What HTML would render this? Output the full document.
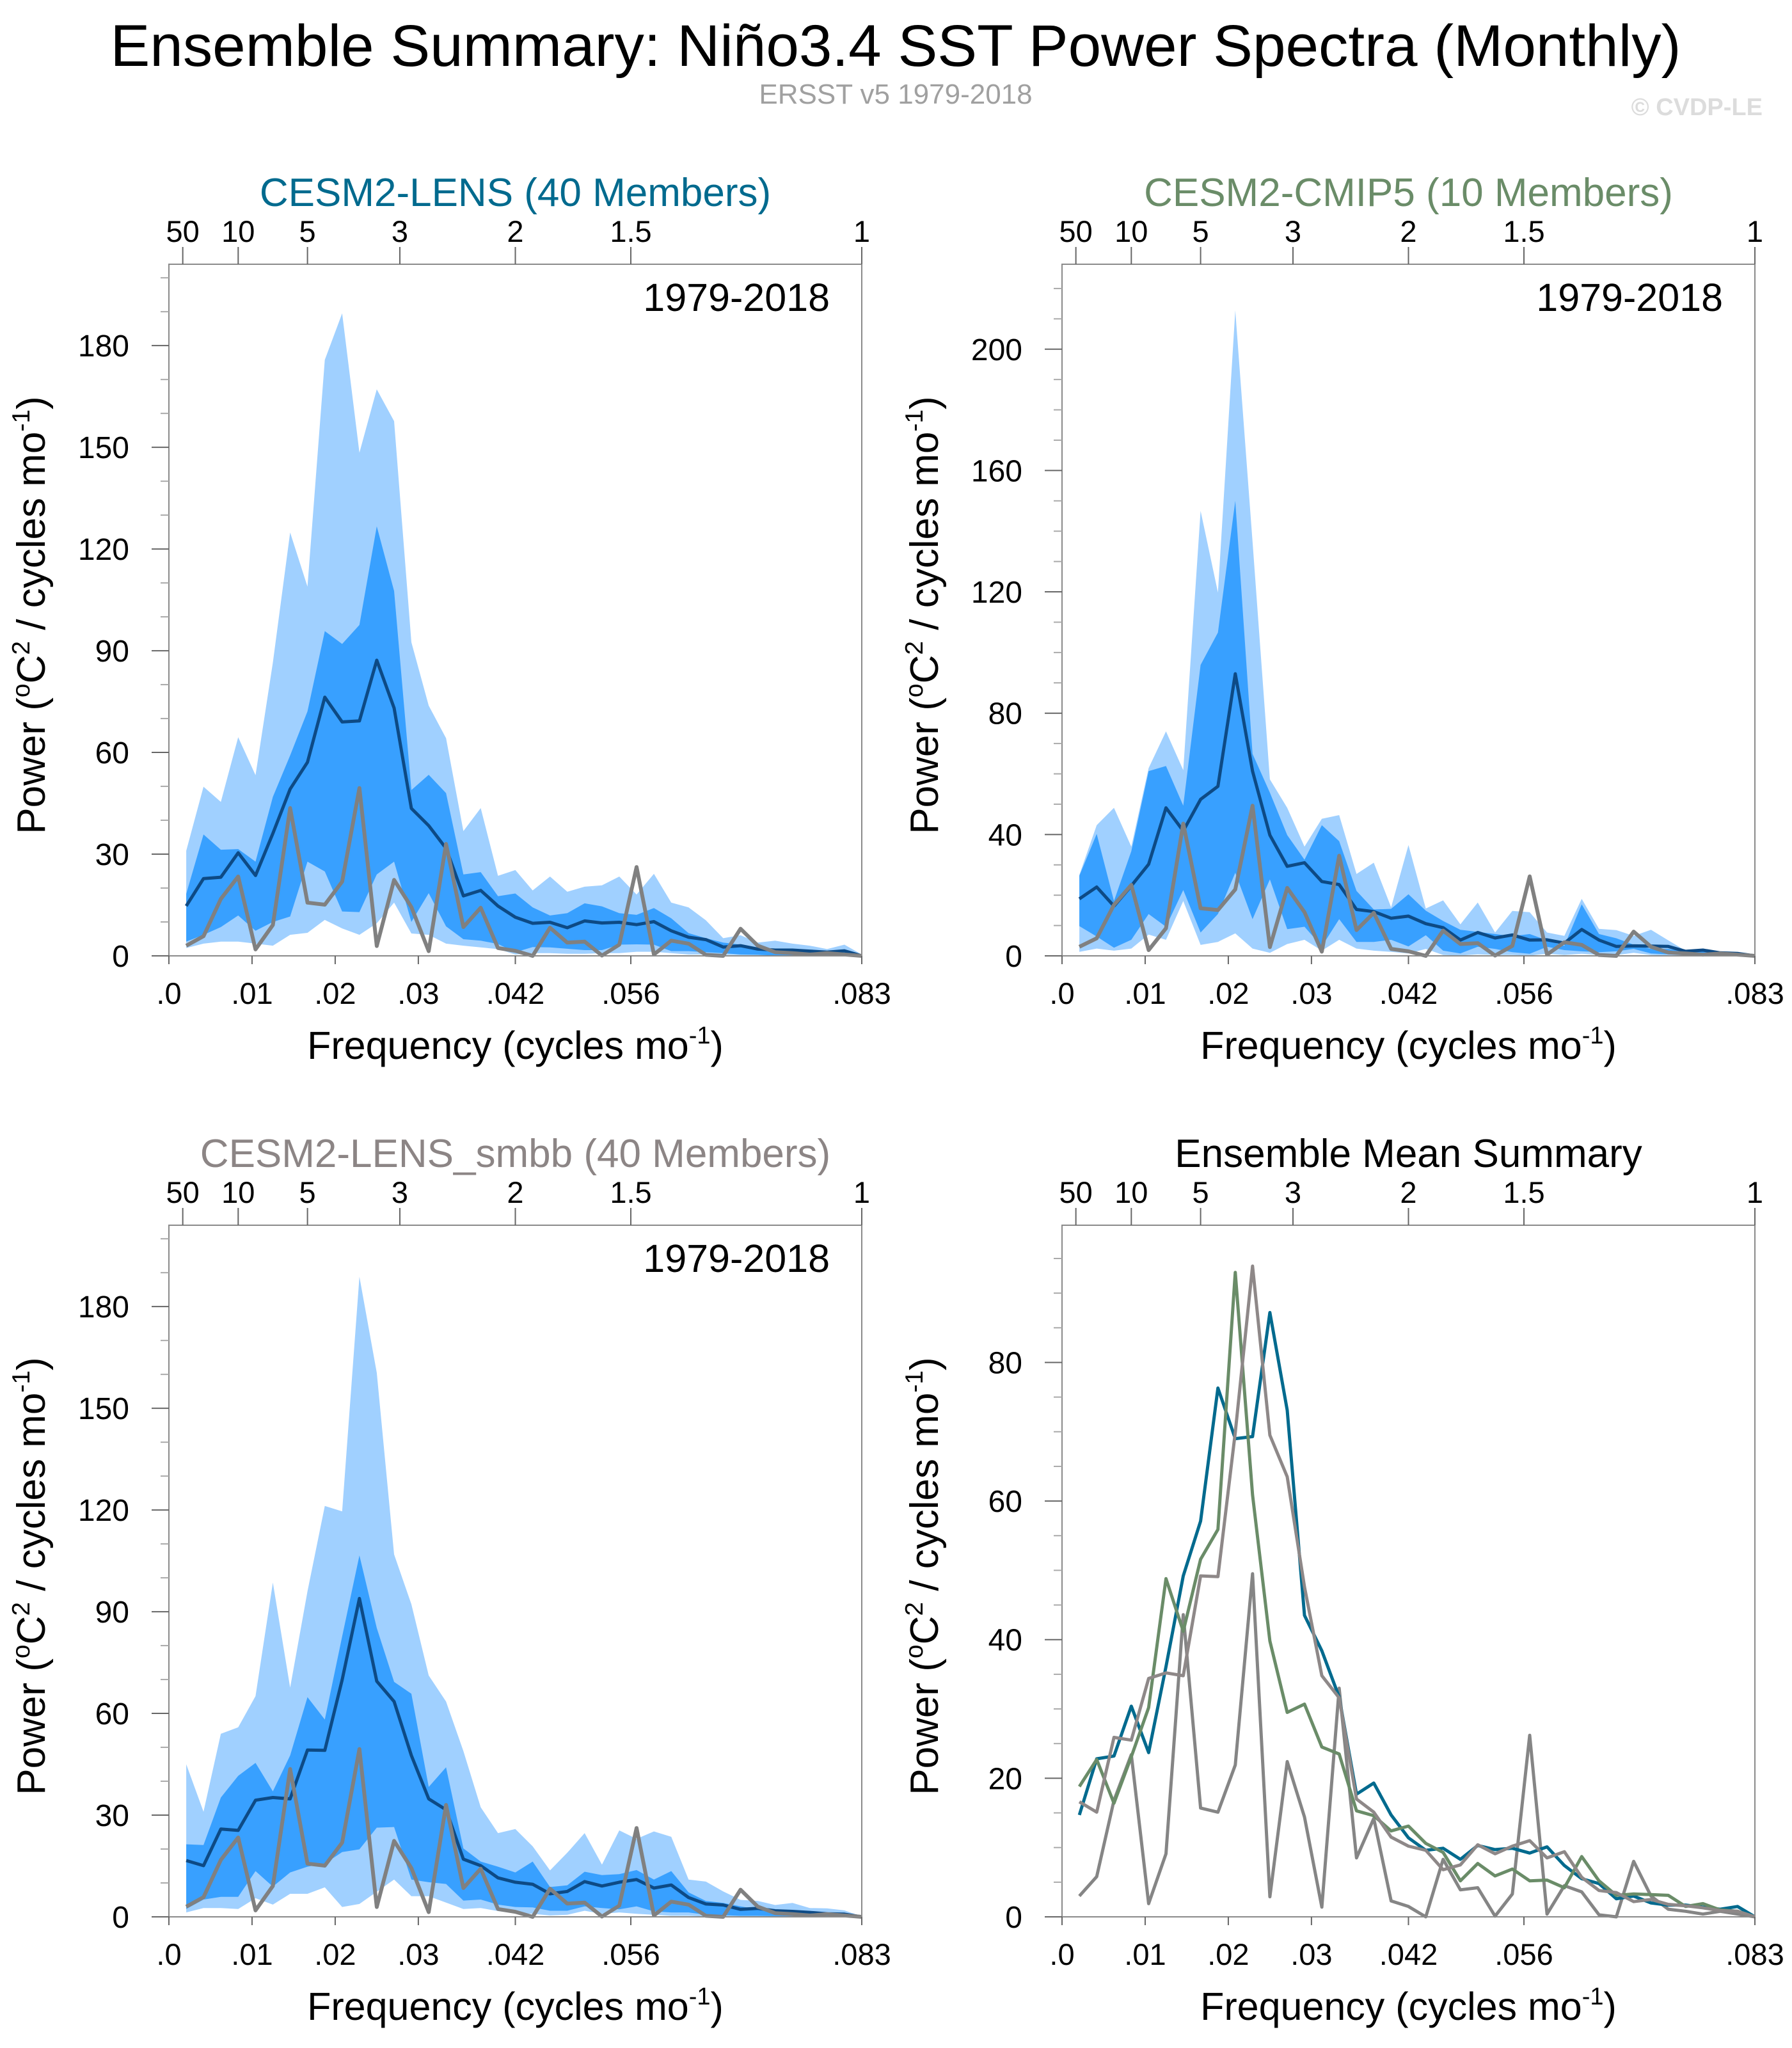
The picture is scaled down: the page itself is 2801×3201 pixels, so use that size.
<!DOCTYPE html>
<html><head><meta charset="utf-8">
<style>
html,body{margin:0;padding:0;background:#fff;}
svg{display:block;font-family:"Liberation Sans",Arial,sans-serif;}
</style></head>
<body>
<svg id="chart" xmlns="http://www.w3.org/2000/svg" width="2801" height="3201" viewBox="0 0 2801 3201">
<rect width="2801" height="3201" fill="#fff"/>
<text x="1400" y="103" font-size="92" text-anchor="middle" textLength="2455" lengthAdjust="spacingAndGlyphs">Ensemble Summary: Niño3.4 SST Power Spectra (Monthly)</text>
<text x="1400" y="162" font-size="44" fill="#a0a0a0" text-anchor="middle">ERSST v5 1979-2018</text>
<text x="2755" y="180" font-size="38" font-weight="bold" fill="#dcdcdc" text-anchor="end">© CVDP-LE</text>
</svg>
<script>
// ---- data (40 frequencies, k/480 cycles per month) ----
const lensMean = [14.7,22.8,23.2,30.4,23.7,36.1,49.2,57.1,76.3,69,69.3,87.2,73.1,43.5,38.4,31.7,17.7,19.3,14.7,11.4,9.6,9.9,8.3,10.3,9.7,9.9,9.2,10.1,7.4,5.5,4.8,2.6,3,2,1.7,1.7,1.4,1.1,1.5,0];
const lensLightUpper = [31,49.9,45.4,64.5,53.3,86.5,124.9,108.9,175.8,189.5,148.4,167.1,157.7,92.5,73.8,64.2,36.8,43.6,23.6,25.3,19.3,23.4,18.9,20.4,20.8,23.4,18.1,24.2,15.7,14.3,10.5,5.2,6.1,3.9,4.5,3.6,3,2,3.3,0.4];
const lensDarkUpper = [18.3,35.8,31.3,31.5,27.8,46.9,59.1,72.1,95.8,92,97.6,126.7,107.6,48.9,53.4,48,24,24.7,17.6,18.4,14.3,11.9,12.6,15.5,14.6,12.6,12.1,14.1,11.1,6.7,5.2,3.9,3.3,2.3,1.7,1.4,1.1,0.8,1.1,0.1];
const lensDarkLower = [4.2,6.2,8.5,11.9,7.4,10,11.6,27.8,24.9,13.1,12.9,24,27.8,10,18.5,8.7,4.9,4.5,3.5,1.1,2.6,2.5,2.1,1.7,1.7,3.3,3.4,3.3,1.4,1.4,1.1,0.8,0.4,0.3,0.1,0.1,0.1,0.1,0.1,0];
const lensLightLower = [2.3,3.6,4.2,4.2,3.6,3,6.2,6.8,10.6,8.1,6.2,9.6,15.7,6.6,6.2,3.6,3,2.5,2,0.4,0.8,0.8,0.6,0.6,0.8,0.8,1.2,1.2,0.8,0.4,0.4,0.3,0.2,0.2,0.1,0.1,0.1,0.1,0.1,0];

const cmipMean = [18.8,22.7,16.4,23.1,30.2,48.8,41.2,51.6,55.9,93,60.9,39.8,29.5,30.7,24.5,23.5,15.3,14.6,12.4,13.1,10.6,9.3,5.2,7.7,5.9,6.9,5.2,5.3,4.2,8.7,5.2,3.1,3.3,3.2,3.1,1.5,1.9,1,0.8,0];
const cmipLightUpper = [26.7,43.1,48.8,36,61.9,74,61.2,146.7,119.8,212.8,136.5,58.2,48.8,36,45.2,46.4,27,30.7,16,36.5,15.6,18.3,10.4,17.6,7.7,14.8,14.4,7.7,6.6,18.8,8.9,8.5,6.6,8.6,5.1,1.7,1.9,1,0.8,0.1];
const cmipDarkUpper = [26.4,40.2,18.1,34.5,60.9,62.6,49.5,95.9,106.6,150,66.6,53.8,39.8,31.7,43.1,37.8,21.4,15.3,15.5,20.3,14.9,11.5,8.6,7.9,7.2,6.5,7.2,5.1,3.3,17,7.2,5.8,3.7,2.3,2.3,1.5,1.5,0.8,0.7,0.1];
const cmipDarkLower = [9.8,6.4,2.7,5.3,13.8,9.6,21.7,7.7,13.8,27.4,12.1,25.2,8.8,9.6,3.1,12.1,4.6,4.6,5.3,3.1,6.8,1.7,0.8,3,2.3,1.2,0.7,3,1.9,1.5,1.2,1.5,2.3,0.8,0.5,0.3,0.1,0.1,0.1,0];
const cmipLightLower = [1.3,2.4,1.7,2.4,7,5.3,18.1,3.6,4.6,7.4,2.4,1,3.9,5.3,1.7,5.3,2.4,1.7,1.3,0.8,2.3,0.3,0.1,0.5,0.3,0.3,0.1,0.7,0.3,0.7,0.3,0.3,1,0.3,0.1,0.1,0.1,0,0,0];

const smbbMean = [16.6,15.1,25.9,25.5,34.4,35.2,34.8,49.2,49.1,69.9,93.9,69.5,63.5,47.6,34.8,31.6,17,15.1,11.5,10.2,9.6,6.8,7.5,10.4,9.1,10.2,11,8.5,9.4,5.7,3.8,3.5,2.2,2.5,1.8,1.6,1.3,0.9,0.8,0];
const smbbLightUpper = [45,31,54,55.9,65.1,98.6,67.6,96,121.2,119.6,188.8,160.5,106.9,92.2,71.2,63.5,48.9,32.3,24.7,25.9,20.8,13.7,18.9,24.7,15.4,25.5,23,25.2,23.6,11,10.4,7.5,5,4.7,3.5,4.1,2.6,2.5,1.9,0.1];
const smbbDarkUpper = [21.4,21.2,35.2,41.6,45.4,37,47.6,64.8,58.2,82.7,106.6,85.2,69.3,65.8,38.3,44.1,20.2,16.3,14.8,13.1,16.3,8.8,9.3,13.3,12.3,12.6,13.8,11,13.5,7.2,4.7,4.1,3.1,2.2,1.6,1.3,0.9,0.8,0.6,0.1];
const smbbDarkLower = [2.3,5.1,5.9,5.9,13.5,8.9,13.1,14.8,15.7,19.1,19.9,26.3,26.5,11,10.2,9.7,4.8,5.1,3.6,2.9,2.8,1.8,1.8,3.1,2.6,2.2,3.1,1.6,1.3,1.3,0.6,0.5,0.3,0.3,0.2,0.2,0.1,0.1,0.1,0];
const smbbLightLower = [1.3,2.6,2.6,2.3,5.5,3.6,6.8,6.8,8.7,2.9,3.8,7.4,11,6.1,6.1,4.2,2.3,2.6,1.7,1,0.9,0.4,0.6,1.8,0.9,1.3,0.9,0.6,0.3,0.3,0.1,0.1,0.1,0.1,0.1,0,0,0,0,0];

const obsSpec = [3,5.8,16.8,23.4,1.9,9.1,43.6,15.7,15.1,21.9,49.5,2.9,22.4,14.4,1.4,33,8.5,14.2,2.3,1.5,0,8.3,3.9,4.2,0.1,3.3,26.2,0.4,4.5,3.6,0.3,0,8,3,1.1,0.8,0.4,0.8,0.4,0];

const bottomTickLabels = [".0",".01",".02",".03",".042",".056",".083"];
const bottomTickValues = [0,0.01,0.02,0.03,1/24,1/18,1/12];
const topTickLabels = ["50","10","5","3","2","1.5","1"];
const topTickYears = [50,10,5,3,2,1.5,1];

const svg = document.getElementById('chart');
const NS = 'http://www.w3.org/2000/svg';
function mk(tag, attrs, parent){
  const e = document.createElementNS(NS, tag);
  for (const k in attrs) e.setAttribute(k, attrs[k]);
  (parent||svg).appendChild(e);
  return e;
}
const FMAX = 1/12, W = 1083, H = 1081;
const freqs = lensMean.map((_, i) => (i+1)/480);

function panel(cfg){
  const g = mk('g', {});
  
  
  const L = cfg.left, T = cfg.top, B = T + H;
  const xs = f => L + f / FMAX * W;
  const ys = v => B - v / cfg.ymax * H;

  if (cfg.bands) {
    const band = (up, lo, color, nm) => {
      let d = '';
      freqs.forEach((f,i) => { d += (i ? 'L' : 'M') + xs(f).toFixed(1) + ',' + ys(up[i]).toFixed(1); });
      for (let i = freqs.length-1; i >= 0; i--) d += 'L' + xs(freqs[i]).toFixed(1) + ',' + ys(lo[i]).toFixed(1);
      const p = mk('path', {d: d + 'Z', fill: color}, g);
      
      
    };
    band(cfg.bands[0], cfg.bands[3], '#a0d0ff', 'band-10-90');
    band(cfg.bands[1], cfg.bands[2], '#38a0ff', 'band-25-75');
  }
  cfg.lines.forEach(ln => {
    const pts = ln.data.map((v,i) => xs(freqs[i]).toFixed(1) + ',' + ys(v).toFixed(1)).join(' ');
    const pl = mk('polyline', {points: pts, fill: 'none', stroke: ln.color, 'stroke-width': ln.w, 'stroke-linejoin': 'round'}, g);
    
    
  });

  const fr = mk('rect', {x: L, y: T, width: W, height: H, fill: 'none', stroke: '#8a8a8a', 'stroke-width': 2}, g);
  
  

  for (let v = 0; v <= cfg.ymax + 1e-9; v += cfg.minor) {
    const isMaj = Math.abs(v / cfg.major - Math.round(v / cfg.major)) < 1e-6;
    const y = ys(v);
    mk('line', {x1: L - (isMaj ? 27 : 13), x2: L, y1: y, y2: y, stroke: isMaj ? '#666' : '#aaa', 'stroke-width': 2}, g);
    if (isMaj) {
      const t = mk('text', {x: L - 62, y: y + 17, 'font-size': 48, 'text-anchor': 'end'}, g);
      t.textContent = Math.round(v);
      
      
    }
  }
  bottomTickValues.forEach((f, i) => {
    const x = xs(f);
    mk('line', {x1: x, x2: x, y1: B, y2: B + 13, stroke: '#666', 'stroke-width': 2}, g);
    const t = mk('text', {x: x, y: B + 75, 'font-size': 47, 'text-anchor': 'middle'}, g);
    t.textContent = bottomTickLabels[i];
    
    
  });
  topTickYears.forEach((p, i) => {
    const x = xs(1/(12*p));
    mk('line', {x1: x, x2: x, y1: T - 27, y2: T, stroke: '#666', 'stroke-width': 2}, g);
    const t = mk('text', {x: x, y: T - 35, 'font-size': 47, 'text-anchor': 'middle'}, g);
    t.textContent = topTickLabels[i];
    
    
  });
  const tt = mk('text', {x: L + W/2, y: T - 91, 'font-size': 62, 'text-anchor': 'middle', fill: cfg.titleColor}, g);
  tt.textContent = cfg.title;
  
  
  if (cfg.years) {
    const yt = mk('text', {x: L + W - 50, y: T + 73, 'font-size': 61, 'text-anchor': 'end'}, g);
    yt.textContent = '1979-2018';
    
    
  }
  const xl = mk('text', {x: L + W/2, y: B + 161, 'font-size': 61, 'text-anchor': 'middle'}, g);
  xl.innerHTML = 'Frequency (cycles mo<tspan dy="-24" font-size="38">-1</tspan><tspan dy="24">)</tspan>';
  
  
  const cx = L - 194, cy = T + H/2 + 8;
  const yl = mk('text', {x: cx, y: cy, 'font-size': 62, 'text-anchor': 'middle', transform: 'rotate(-90 ' + cx + ' ' + cy + ')'}, g);
  yl.innerHTML = 'Power (<tspan dy="-24" font-size="39">o</tspan><tspan dy="24">C</tspan><tspan dy="-24" font-size="39">2</tspan><tspan dy="24"> / cycles mo</tspan><tspan dy="-24" font-size="39">-1</tspan><tspan dy="24">)</tspan>';
  
  
}

panel({name:'panel-cesm2-lens', left:264, top:413, ymax:204, major:30, minor:10, title:'CESM2-LENS (40 Members)', titleColor:'#006a8e', years:true,
  bands:[lensLightUpper, lensDarkUpper, lensDarkLower, lensLightLower],
  lines:[{data:lensMean, color:'#0d4a85', w:5, name:'ensemble-mean-line'},{data:obsSpec, color:'#808080', w:6, name:'observed-line'}]});
panel({name:'panel-cesm2-cmip5', left:1660, top:413, ymax:228, major:40, minor:10, title:'CESM2-CMIP5 (10 Members)', titleColor:'#6a8c68', years:true,
  bands:[cmipLightUpper, cmipDarkUpper, cmipDarkLower, cmipLightLower],
  lines:[{data:cmipMean, color:'#0d4a85', w:5, name:'ensemble-mean-line'},{data:obsSpec, color:'#808080', w:6, name:'observed-line'}]});
panel({name:'panel-cesm2-lens-smbb', left:264, top:1915, ymax:204, major:30, minor:10, title:'CESM2-LENS_smbb (40 Members)', titleColor:'#8c8585', years:true,
  bands:[smbbLightUpper, smbbDarkUpper, smbbDarkLower, smbbLightLower],
  lines:[{data:smbbMean, color:'#0d4a85', w:5, name:'ensemble-mean-line'},{data:obsSpec, color:'#808080', w:6, name:'observed-line'}]});
panel({name:'panel-ensemble-mean-summary', left:1660, top:1915, ymax:99.8, major:20, minor:5, title:'Ensemble Mean Summary', titleColor:'#000', years:false,
  bands:null,
  lines:[{data:obsSpec, color:'#858585', w:5, name:'observed-line'},
         {data:lensMean, color:'#006a8e', w:5, name:'lens-mean-line'},
         {data:cmipMean, color:'#6a8c68', w:5, name:'cmip5-mean-line'},
         {data:smbbMean, color:'#8e8888', w:5, name:'smbb-mean-line'}]});
</script>
</body></html>
